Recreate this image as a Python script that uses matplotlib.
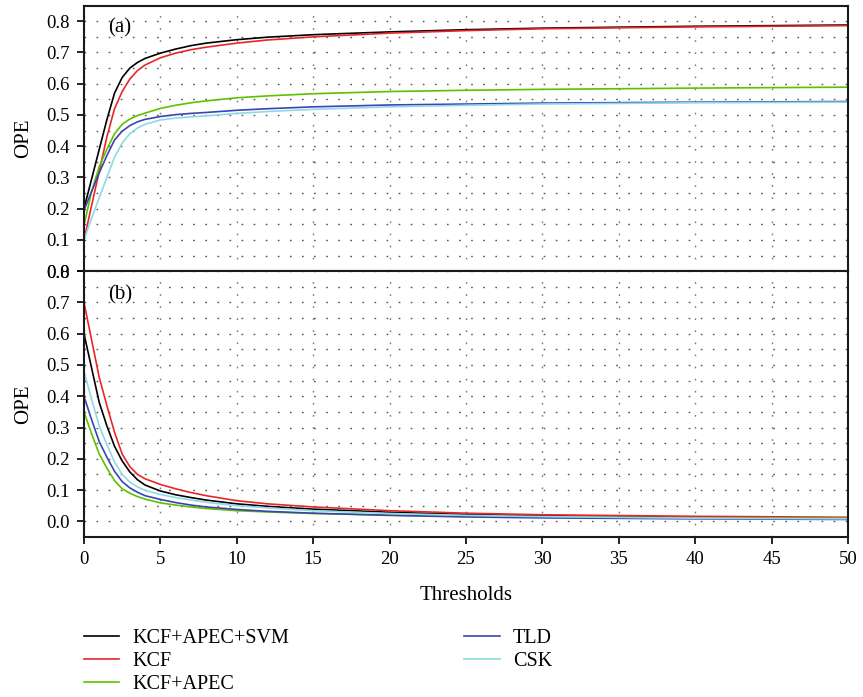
import matplotlib
matplotlib.use("Agg")
import matplotlib.pyplot as plt
from matplotlib.ticker import MultipleLocator, FormatStrFormatter
from matplotlib.lines import Line2D

plt.rcParams['font.family'] = ['Liberation Serif', 'DejaVu Serif']

thresholds = [0, 0.5, 1, 1.5, 2, 2.5, 3, 3.5, 4, 5, 6, 7, 8, 10, 12, 15, 20, 25, 30, 40, 50]

names = ["KCF+APEC+SVM", "KCF", "KCF+APEC", "TLD", "CSK"]
colors = ["#000000", "#e8262a", "#5fc000", "#3a44b0", "#8fd8e8"]

# panel (a)
a_svm  = [.20, .295, .39, .485, .57, .62, .65, .668, .681, .698, .711, .722, .730, .741, .749, .757, .766, .773, .778, .784, .788]
a_kcf  = [.10, .21, .32, .43, .52, .575, .615, .642, .66, .683, .698, .709, .717, .730, .740, .750, .762, .770, .776, .782, .786]
a_apec = [.147, .255, .335, .39, .44, .47, .487, .498, .506, .521, .531, .539, .545, .555, .561, .568, .575, .579, .582, .586, .589]
a_tld  = [.195, .255, .315, .37, .42, .448, .466, .478, .486, .495, .501, .505, .508, .515, .520, .526, .532, .535, .538, .541, .543]
a_csk  = [.10, .17, .235, .30, .365, .41, .44, .458, .47, .484, .490, .494, .497, .505, .511, .518, .526, .531, .535, .539, .541]

# panel (b)
b_svm  = [.60, .49, .38, .305, .24, .193, .158, .133, .116, .097, .085, .076, .068, .056, .048, .039, .029, .022, .018, .013, .011]
b_kcf  = [.70, .58, .46, .37, .285, .215, .175, .15, .136, .118, .104, .092, .082, .066, .056, .046, .034, .026, .021, .016, .013]
b_apec = [.35, .28, .215, .17, .13, .104, .09, .079, .071, .059, .052, .046, .041, .034, .03, .025, .02, .016, .014, .011, .010]
b_tld  = [.40, .325, .255, .205, .16, .127, .107, .093, .082, .07, .06, .052, .046, .038, .032, .026, .019, .014, .011, .008, .006]
b_csk  = [.48, .39, .305, .245, .19, .15, .126, .11, .099, .086, .076, .068, .061, .05, .043, .034, .025, .019, .015, .010, .008]

series_a = [a_svm, a_kcf, a_apec, a_tld, a_csk]
series_b = [b_svm, b_kcf, b_apec, b_tld, b_csk]

fig = plt.figure(figsize=(8.63, 6.97), dpi=100)
left, right = 0.0973, 0.9826
ax1 = fig.add_axes([left, 0.611, right - left, 0.991 - 0.611])
ax2 = fig.add_axes([left, 0.2296, right - left, 0.611 - 0.2296])

fs_tick = 13.5
fs_lab = 15
for ax, series, ylim, lab, ly in [(ax1, series_a, (0.0, 0.848), "(a)", 0.955),
                                  (ax2, series_b, (-0.05, 0.8), "(b)", 0.948)]:
    for s, c in zip(series, colors):
        ax.plot(thresholds, s, color=c, lw=1.2)
    ax.set_xlim(0, 50)
    ax.set_ylim(*ylim)
    ax.xaxis.set_major_locator(MultipleLocator(5))
    ax.yaxis.set_major_locator(MultipleLocator(0.1))
    ax.yaxis.set_minor_locator(MultipleLocator(0.05))
    ax.yaxis.set_major_formatter(FormatStrFormatter('%.1f'))
    ax.grid(True, axis='y', which='both', color='#555555', lw=1.0, linestyle=(0, (1.2, 7.5)))
    ax.grid(True, axis='x', which='major', color='#777777', lw=1.0, linestyle=(0, (1.2, 7.5)))
    ax.tick_params(axis='both', which='major', direction='out', length=5, width=1.2,
                   labelsize=fs_tick, pad=5)
    ax.tick_params(axis='y', which='minor', length=0)
    for sp in ax.spines.values():
        sp.set_linewidth(1.5)
        sp.set_color('#1a1a1a')
    ax.set_ylabel("OPE", fontsize=fs_lab)
    ax.yaxis.set_label_coords(-0.066, 0.5)
    ax.text(0.031, ly, lab, transform=ax.transAxes, fontsize=fs_lab, va='top', ha='left')

ax1.tick_params(axis='x', labelbottom=False)
ax2.set_xlabel("Thresholds", fontsize=fs_lab, labelpad=13)

handles = [Line2D([], [], color=c, lw=1.2) for c in colors]
fig.legend(handles, names, loc='upper left', bbox_to_anchor=(0.0857, 0.112), ncol=2,
           frameon=False, fontsize=14.5, handlelength=1.75, labelspacing=0.2,
           columnspacing=8.7, handletextpad=0.65, borderpad=0)

fig.savefig("out.png", dpi=100)
